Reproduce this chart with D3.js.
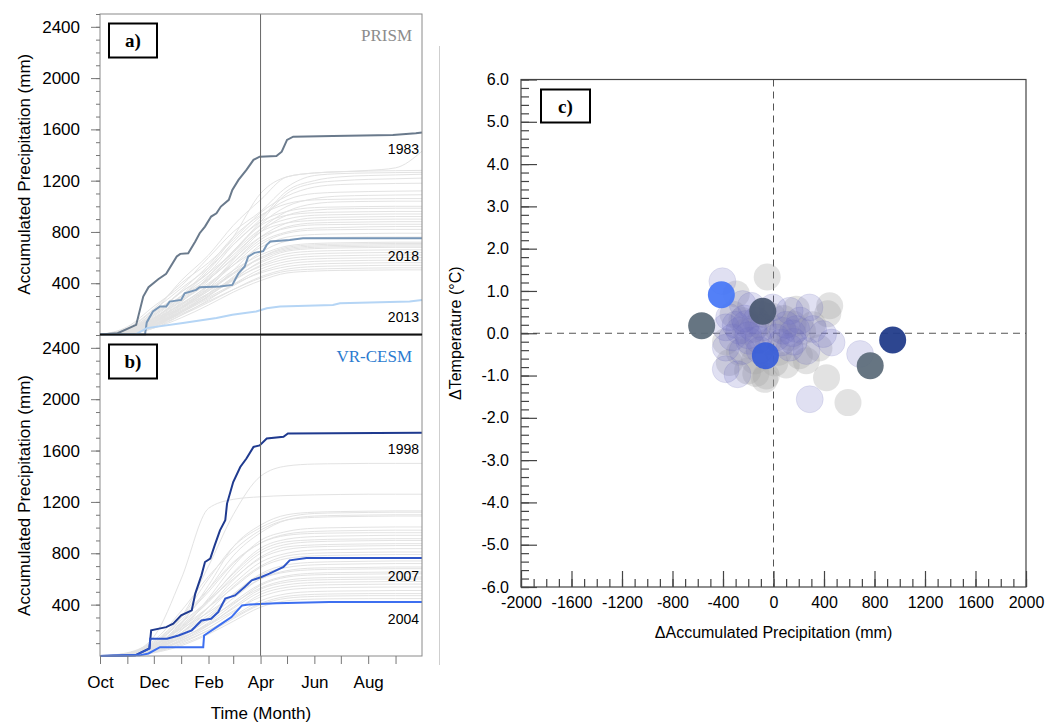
<!DOCTYPE html>
<html>
<head>
<meta charset="utf-8">
<script src="https://cdn.jsdelivr.net/npm/d3@7"></script>
<style>
  body { margin: 0; background: #fff; }
  svg { display: block; }
  text { font-family: "Liberation Sans", Arial, sans-serif; fill: #000; }
</style>
</head>
<body>
<svg width="1048" height="724"></svg>
<script>
// day of water year at the start of each month (Oct 1 = 0), last = Sep 30 end
var monthDays = [0, 31, 61, 92, 123, 151, 182, 212, 243, 273, 304, 335, 365];
var monthLabels = ["Oct", "", "Dec", "", "Feb", "", "Apr", "", "Jun", "", "Aug", ""];
var precipTicks = [400, 800, 1200, 1600, 2000, 2400];

// PRISM background years: accumulated precip (mm) at each monthDays entry
var prismLines = [
  [0,40,180,420,620,850,1050,1230,1260,1270,1280,1300,1430],
  [0,20,120,300,520,760,1100,1230,1260,1270,1275,1278,1280],
  [0,60,220,380,600,800,960,1150,1240,1255,1260,1263,1265],
  [0,30,150,330,480,700,900,1120,1200,1230,1240,1245,1250],
  [0,10,90,250,450,650,880,1100,1180,1200,1210,1215,1220],
  [0,50,200,400,560,740,950,1080,1150,1170,1175,1178,1180],
  [0,25,130,290,500,720,920,1050,1100,1110,1115,1118,1120],
  [0,15,100,260,420,640,860,1000,1060,1080,1085,1088,1090],
  [0,35,160,340,540,760,930,1020,1050,1055,1058,1060,1060],
  [0,20,110,270,430,600,820,960,1020,1035,1038,1040,1040],
  [0,45,190,360,520,700,880,960,990,995,998,1000,1000],
  [0,10,80,210,380,580,800,930,970,980,983,985,985],
  [0,30,140,300,460,650,850,930,950,955,958,960,960],
  [0,40,170,330,480,640,820,900,930,935,938,940,940],
  [0,5,70,200,360,560,760,870,910,915,918,920,920],
  [0,25,120,280,440,620,800,870,890,895,898,900,900],
  [0,15,90,230,390,560,740,840,870,875,878,880,880],
  [0,35,150,300,430,590,760,830,855,858,860,860,860],
  [0,20,100,240,380,540,720,800,830,835,840,842,842],
  [0,10,70,180,320,500,700,790,815,818,820,820,820],
  [0,30,130,260,400,540,680,760,780,785,788,790,790],
  [0,15,90,210,340,480,640,730,755,758,760,760,760],
  [0,25,110,240,360,500,620,690,710,715,718,720,720],
  [0,5,60,170,300,450,600,680,700,705,708,710,710],
  [0,20,100,220,340,470,600,670,690,695,698,700,700],
  [0,30,120,230,350,480,590,660,680,685,688,690,690],
  [0,10,70,180,300,430,570,650,670,675,678,680,680],
  [0,20,90,200,320,440,560,630,650,655,658,660,660],
  [0,15,80,190,310,420,540,610,630,635,638,640,640],
  [0,25,100,210,320,430,530,590,610,615,618,620,620],
  [0,5,50,150,270,390,510,570,590,595,598,600,600],
  [0,10,70,170,280,380,490,550,570,575,578,580,580],
  [0,20,80,180,290,390,480,530,550,555,558,560,560],
  [0,10,60,150,250,350,450,510,530,535,538,540,540],
  [0,15,70,160,260,350,440,495,510,515,518,520,520],
  [0,5,50,130,230,330,420,480,495,500,502,504,504]
];

// VR-CESM background years
var cesmLines = [
  [0,10,80,300,700,1100,1400,1480,1495,1498,1500,1500,1500],
  [0,20,150,600,1150,1220,1240,1250,1255,1258,1260,1260,1260],
  [0,5,60,250,550,850,1020,1100,1120,1125,1128,1130,1130],
  [0,15,100,300,600,850,1000,1080,1110,1115,1118,1120,1120],
  [0,10,70,260,520,780,960,1060,1090,1095,1098,1100,1100],
  [0,25,120,350,620,820,980,1060,1080,1085,1088,1090,1090],
  [0,5,50,200,450,700,900,970,995,1000,1003,1005,1005],
  [0,10,90,280,500,720,880,950,970,975,978,980,980],
  [0,20,110,300,520,730,880,940,955,958,960,960,960],
  [0,5,60,220,430,650,840,910,930,935,938,940,940],
  [0,15,80,240,440,640,820,890,905,910,912,914,914],
  [0,10,70,230,420,620,800,870,890,895,898,900,900],
  [0,5,40,180,380,590,770,850,865,870,873,875,875],
  [0,20,100,260,430,600,760,830,850,855,858,860,860],
  [0,10,60,200,380,560,730,800,825,830,834,836,836],
  [0,5,50,180,350,540,700,780,800,805,808,810,810],
  [0,15,80,220,380,530,690,760,780,785,788,790,790],
  [0,5,40,150,300,480,640,710,730,735,738,740,740],
  [0,10,60,180,320,480,630,690,710,715,718,720,720],
  [0,5,50,160,300,450,600,665,685,688,690,693,693],
  [0,20,90,210,340,470,600,655,672,676,678,680,680],
  [0,10,50,150,280,420,560,625,645,650,652,654,654],
  [0,5,40,130,260,400,550,615,632,636,638,640,640],
  [0,15,70,170,290,410,530,590,608,612,614,615,615],
  [0,5,30,120,240,380,520,575,592,596,598,600,600],
  [0,10,50,140,250,370,500,555,572,576,578,580,580],
  [0,5,40,120,220,340,480,535,552,556,558,560,560],
  [0,10,60,140,240,350,460,515,530,534,536,537,537],
  [0,5,30,100,200,310,430,485,502,506,508,510,510],
  [0,10,40,110,200,300,410,465,480,484,486,486,486],
  [0,5,30,90,180,290,400,450,464,468,470,470,470],
  [0,5,25,80,170,270,380,430,443,446,447,447,447]
];

// highlighted years: [day, accumulated mm]
var prism1983 = [[0,0],[20,10],[41,75],[49,296],[55,369],[66,431],[75,473],[87,608],[91,629],[100,634],[108,725],[113,790],[119,842],[126,920],[132,946],[137,998],[146,1050],[150,1128],[157,1206],[166,1284],[174,1362],[181,1387],[200,1393],[206,1426],[212,1518],[219,1543],[264,1548],[332,1556],[358,1570],[365,1575]];
var prism2018 = [[0,0],[51,0],[53,94],[60,179],[68,218],[75,218],[79,257],[92,270],[96,322],[109,348],[113,369],[136,374],[150,387],[157,478],[164,530],[168,608],[175,637],[185,650],[189,699],[193,725],[215,738],[230,751],[365,751]];
var prism2013 = [[0,0],[40,0],[53,50],[94,89],[132,128],[150,154],[177,179],[189,205],[204,218],[264,231],[272,244],[351,257],[365,270]];
var cesm1998 = [[0,0],[40,5],[56,59],[58,200],[75,225],[83,252],[92,316],[104,355],[108,486],[115,628],[119,732],[125,758],[130,862],[136,979],[142,1057],[144,1187],[151,1355],[159,1472],[166,1538],[174,1628],[181,1640],[189,1694],[208,1707],[213,1733],[365,1738]];
var cesm2007 = [[0,0],[40,5],[56,57],[57,135],[76,135],[89,160],[104,200],[115,277],[126,290],[134,342],[142,447],[153,472],[164,537],[172,589],[183,615],[192,641],[208,693],[215,745],[234,763],[365,763]];
var cesm2004 = [[0,0],[45,5],[55,20],[68,69],[117,69],[118,160],[138,252],[149,303],[161,394],[170,402],[200,410],[260,420],[365,420]];

// scatter: [dPrecip mm, dTemp degC]
var prismAnom = [[-50,1.33],[-295,0.93],[445,0.65],[430,0.46],[155,0.22],[205,-0.53],[420,-1.05],[590,-1.64],[-350,-0.69],[-205,-0.89],[-70,-1.09],[-150,-0.65],[35,0.10],[180,0.57],[260,-0.65],[-58,-1.01],[-320,0.45],[-220,0.05],[-170,-0.30],[-120,0.20],[80,0.35],[130,-0.10],[-270,-0.45],[-40,-0.20],[40,-0.45],[310,0.20],[-100,0.45],[-10,0.40],[-380,-0.20],[100,-0.75],[230,0.05],[-140,-0.95],[360,-0.35],[-250,0.30],[10,-0.70]];
var cesmAnom = [[-405,1.23],[285,0.61],[128,0.53],[314,0.10],[393,-0.02],[460,-0.22],[261,-0.42],[128,-0.34],[61,-0.22],[287,-1.56],[686,-0.49],[-378,0.14],[-351,0.38],[-245,0.69],[-178,0.65],[-138,0.30],[-218,0.22],[-271,0.06],[-325,-0.10],[-192,-0.18],[-85,0.14],[-245,-0.42],[-378,-0.34],[-378,-0.85],[-285,-0.97],[-6,0.61],[74,0.06],[180,0.10],[-110,-0.40],[20,-0.10],[210,0.30],[-300,0.20],[160,-0.20],[-160,0.10],[-230,0.35],[150,0.00],[100,0.20],[-200,-0.05],[-120,-0.15]];
var highlightAnom = [
  {year: 2013, p: -569, t: 0.18, color: "#5e6e7b"},
  {year: 2018, p: -85, t: 0.52, color: "#4d5b73"},
  {year: 1983, p: 766, t: -0.77, color: "#5e6e7b"},
  {year: 1998, p: 944, t: -0.16, color: "#223c8a"},
  {year: 2004, p: -413, t: 0.91, color: "#4a79f7"},
  {year: 2007, p: -64, t: -0.53, color: "#3a5fd8"}
];

var svg = d3.select("svg");

var x = d3.scaleLinear().domain([0, 365]).range([100, 422]);
var yA = d3.scaleLinear().domain([0, 2500]).range([334.5, 14]);
var yB = d3.scaleLinear().domain([0, 2500]).range([656, 335]);

function drawPanel(y, bg, hl, tag, source, sourceColor) {
  var g = svg.append("g");
  var top = y.range()[1], bot = y.range()[0];

  var smooth = d3.line()
      .x(function(d, i) { return x(monthDays[i]); })
      .y(function(d) { return y(d); })
      .curve(d3.curveMonotoneX);

  g.selectAll(".bg")
    .data(bg)
    .enter().append("path")
      .attr("fill", "none")
      .attr("stroke", "#e3e3e3")
      .attr("stroke-width", 1)
      .attr("d", smooth);

  var pl = d3.line()
      .x(function(d) { return x(d[0]); })
      .y(function(d) { return y(d[1]); });

  hl.forEach(function(h) {
    g.append("path")
      .attr("fill", "none")
      .attr("stroke", h.color)
      .attr("stroke-width", 2)
      .attr("d", pl(h.data));
    g.append("text")
      .attr("x", 419)
      .attr("y", y(h.label))
      .attr("text-anchor", "end")
      .attr("dy", "0.35em")
      .style("font-size", "14px")
      .text(h.year);
  });

  // April 1 line
  g.append("line")
    .attr("x1", x(182)).attr("x2", x(182))
    .attr("y1", top).attr("y2", bot)
    .attr("stroke", "#666").attr("stroke-width", 1);

  g.append("rect")
    .attr("x", 100).attr("y", top)
    .attr("width", 322).attr("height", bot - top)
    .attr("fill", "none").attr("stroke", "#8a8a8a").attr("stroke-width", 1);

  var minor = g.append("g")
      .attr("transform", "translate(100,0)")
      .call(d3.axisLeft(y).tickValues(d3.range(100, 2501, 100)).tickSize(4).tickFormat(""));
  var major = g.append("g")
      .attr("transform", "translate(100,0)")
      .call(d3.axisLeft(y).tickValues(precipTicks).tickSize(9).tickPadding(11).tickFormat(d3.format("d")));
  [minor, major].forEach(function(a) {
    a.select(".domain").remove();
    a.selectAll("line").attr("stroke", "#777");
  });
  major.selectAll("text").style("font-size", "17px").style("font-family", "Liberation Sans, Arial, sans-serif");

  g.append("text")
    .attr("transform", "translate(24," + ((top + bot) / 2) + ") rotate(-90)")
    .attr("text-anchor", "middle")
    .attr("dy", "0.35em")
    .style("font-size", "17px")
    .text("Accumulated Precipitation (mm)");

  g.append("rect")
    .attr("x", 109).attr("y", top + 9.5)
    .attr("width", 48).attr("height", 34)
    .attr("fill", "#fff").attr("stroke", "#000").attr("stroke-width", 2);
  g.append("text")
    .attr("x", 133).attr("y", top + 33)
    .attr("text-anchor", "middle")
    .style("font-family", "Liberation Serif, Times New Roman, serif")
    .style("font-weight", "bold")
    .style("font-size", "19px")
    .text(tag);

  g.append("text")
    .attr("x", 412).attr("y", top + 27)
    .attr("text-anchor", "end")
    .style("font-family", "Liberation Serif, Times New Roman, serif")
    .style("font-size", "17px")
    .style("fill", sourceColor)
    .text(source);

  return g;
}

drawPanel(yA, prismLines, [
  {year: 1983, data: prism1983, color: "#6a7a8c", label: 1450},
  {year: 2018, data: prism2018, color: "#7897b8", label: 610},
  {year: 2013, data: prism2013, color: "#b5d5f5", label: 135}
], "a)", "PRISM", "#8c8c8c");

drawPanel(yB, cesmLines, [
  {year: 1998, data: cesm1998, color: "#1f3a8f", label: 1610},
  {year: 2007, data: cesm2007, color: "#2e55c8", label: 625},
  {year: 2004, data: cesm2004, color: "#3d6ff0", label: 290}
], "b)", "VR-CESM", "#2b7bd0");

// thick boundary between panels a and b
svg.append("line")
  .attr("x1", 100).attr("x2", 422)
  .attr("y1", 334.5).attr("y2", 334.5)
  .attr("stroke", "#111").attr("stroke-width", 2);

var xAxis = svg.append("g")
    .attr("transform", "translate(0,656)")
    .call(d3.axisBottom(x)
      .tickValues(monthDays.slice(0, 12))
      .tickSize(8)
      .tickPadding(12)
      .tickFormat(function(d, i) { return monthLabels[i]; }));
xAxis.select(".domain").remove();
xAxis.selectAll("line").attr("stroke", "#777");
xAxis.selectAll("text").style("font-size", "17px").style("font-family", "Liberation Sans, Arial, sans-serif");

svg.append("text")
  .attr("x", 261).attr("y", 719)
  .attr("text-anchor", "middle")
  .style("font-size", "17px")
  .text("Time (Month)");

// separator
svg.append("line")
  .attr("x1", 439.5).attr("x2", 439.5)
  .attr("y1", 46).attr("y2", 665)
  .attr("stroke", "#cfcfcf").attr("stroke-width", 1);

// ---- panel c ----
var xc = d3.scaleLinear().domain([-2000, 2000]).range([521, 1026]);
var yc = d3.scaleLinear().domain([-6, 6]).range([587, 79.5]);
var gc = svg.append("g");

gc.append("line")
  .attr("x1", xc(0)).attr("x2", xc(0))
  .attr("y1", yc(6)).attr("y2", yc(-6))
  .attr("stroke", "#555").attr("stroke-dasharray", "7,5");
gc.append("line")
  .attr("x1", xc(-2000)).attr("x2", xc(2000))
  .attr("y1", yc(0)).attr("y2", yc(0))
  .attr("stroke", "#555").attr("stroke-dasharray", "7,5");

gc.selectAll(".pa")
  .data(prismAnom)
  .enter().append("circle")
    .attr("cx", function(d) { return xc(d[0]); })
    .attr("cy", function(d) { return yc(d[1]); })
    .attr("r", 13.5)
    .attr("fill", "#a4a4a4")
    .attr("fill-opacity", 0.32);

gc.selectAll(".ca")
  .data(cesmAnom)
  .enter().append("circle")
    .attr("cx", function(d) { return xc(d[0]); })
    .attr("cy", function(d) { return yc(d[1]); })
    .attr("r", 13.5)
    .attr("fill", "#7070c4")
    .attr("fill-opacity", 0.22)
    .attr("stroke", "#6a6ab8")
    .attr("stroke-opacity", 0.15);

gc.selectAll(".ha")
  .data(highlightAnom)
  .enter().append("circle")
    .attr("cx", function(d) { return xc(d.p); })
    .attr("cy", function(d) { return yc(d.t); })
    .attr("r", 13.5)
    .attr("fill", function(d) { return d.color; })
    .attr("fill-opacity", 0.95);

gc.append("rect")
  .attr("x", 521).attr("y", 79.5)
  .attr("width", 505).attr("height", 507.5)
  .attr("fill", "none").attr("stroke", "#444").attr("stroke-width", 1.2);

function styleAxis(a) {
  a.select(".domain").remove();
  a.selectAll("line").attr("stroke", "#444").attr("stroke-width", 1.2);
  a.selectAll("text").style("font-size", "16px").style("font-family", "Liberation Sans, Arial, sans-serif");
}

var ycMinor = gc.append("g").attr("transform", "translate(521,0)")
    .call(d3.axisLeft(yc).tickValues(d3.range(-6, 6.01, 0.2)).tickSize(-8).tickFormat(""));
var ycMajor = gc.append("g").attr("transform", "translate(521,0)")
    .call(d3.axisLeft(yc).tickValues(d3.range(-6, 6.01, 1)).tickSize(-16).tickPadding(12).tickFormat(d3.format(".1f")));
var xcMinor = gc.append("g").attr("transform", "translate(0,587)")
    .call(d3.axisBottom(xc).tickValues(d3.range(-2000, 2001, 100)).tickSize(-8).tickFormat(""));
var xcMajor = gc.append("g").attr("transform", "translate(0,587)")
    .call(d3.axisBottom(xc).tickValues(d3.range(-2000, 2001, 400)).tickSize(-16).tickPadding(10).tickFormat(d3.format("d")));
[ycMinor, ycMajor, xcMinor, xcMajor].forEach(styleAxis);
ycMajor.selectAll("text").text(function(d) { return d3.format(".1f")(d).replace("\u2212", "-"); });
xcMajor.selectAll("text").text(function(d) { return String(d); });

gc.append("text")
  .attr("transform", "translate(455," + yc(0) + ") rotate(-90)")
  .attr("text-anchor", "middle")
  .attr("dy", "0.35em")
  .style("font-size", "16px")
  .text("\u0394Temperature (\u00B0C)");

gc.append("text")
  .attr("x", xc(0)).attr("y", 638)
  .attr("text-anchor", "middle")
  .style("font-size", "16px")
  .text("\u0394Accumulated Precipitation (mm)");

gc.append("rect")
  .attr("x", 541).attr("y", 89.5)
  .attr("width", 49).attr("height", 33)
  .attr("fill", "#fff").attr("stroke", "#000").attr("stroke-width", 2);
gc.append("text")
  .attr("x", 565.5).attr("y", 113)
  .attr("text-anchor", "middle")
  .style("font-family", "Liberation Serif, Times New Roman, serif")
  .style("font-weight", "bold")
  .style("font-size", "19px")
  .text("c)");
</script>
</body>
</html>
